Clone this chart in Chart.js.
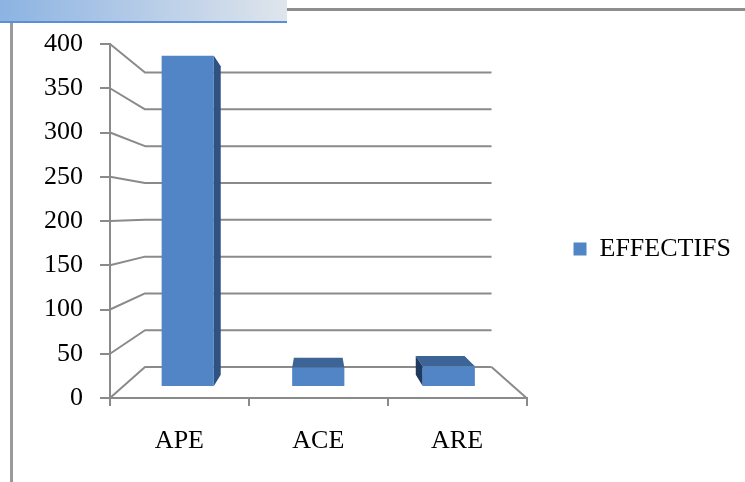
<!DOCTYPE html>
<html>
<head>
<meta charset="utf-8">
<script src="https://cdn.jsdelivr.net/npm/chart.js@4.4.1/dist/chart.umd.min.js"></script>
<style>
  html, body { margin: 0; padding: 0; background: #fff; }
  #page { position: relative; width: 745px; height: 482px; overflow: hidden; }
  #banner { position: absolute; left: 0; top: 0; width: 287px; height: 21px;
    background: linear-gradient(to right, #8cb3e2, #dfe5ec); border-bottom: 2px solid #5a8fd8; }
  #topRule { position: absolute; left: 287px; top: 8px; width: 458px; height: 3px; background: #8d8d8d; }
  #sideRule { position: absolute; left: 10px; top: 23px; width: 3px; height: 459px; background: #9a9a9a; }
  #wrap { position: absolute; left: 0; top: 0; width: 745px; height: 482px; }
</style>
</head>
<body>
<div id="page">
  <div id="banner"></div>
  <div id="topRule"></div>
  <div id="sideRule"></div>
  <div id="wrap"><canvas id="effChart" width="745" height="482"></canvas></div>
</div>
<script>
// ---- data ----
const categories = ['APE', 'ACE', 'ARE'];
const effectifs = [398, 23, 25];
const yTicks = [0, 50, 100, 150, 200, 250, 300, 350, 400];
const seriesName = 'EFFECTIFS';

// ---- look ----
const GRID = '#8a8a8a';
const FRONT = '#5285c6';
const SIDE_R = '#2f5283';
const SIDE_L = '#1f3a61';
const TOP = '#3c6496';
const FONT = { family: '"Liberation Serif", serif', size: 26 };

// fake perspective: everything recedes toward a vanishing point in the plot
const V_X = 0.5, V_Y = 0.48;
const S_BACK = 0.832;       // back wall
const S_BAR_FRONT = 0.940;  // front face of the columns
const S_BAR_BACK = 0.878;   // back face of the columns

function vanish(ca) {
  return [ca.left + V_X * ca.width, ca.top + V_Y * ca.height];
}
function proj(ca, x, y, s) {
  const [vx, vy] = vanish(ca);
  return [vx + s * (x - vx), vy + s * (y - vy)];
}
function poly(ctx, pts, fill) {
  ctx.beginPath();
  ctx.moveTo(pts[0][0], pts[0][1]);
  for (let i = 1; i < pts.length; i++) ctx.lineTo(pts[i][0], pts[i][1]);
  ctx.closePath();
  ctx.fillStyle = fill;
  ctx.fill();
}

const depth3d = {
  id: 'depth3d',
  beforeDatasetsDraw(chart) {
    const { ctx, chartArea: ca } = chart;
    const yS = chart.scales.y;
    ctx.save();
    ctx.strokeStyle = GRID;
    ctx.lineWidth = 2;
    ctx.lineJoin = 'round';
    // side wall diagonals + back wall grid lines
    yS.ticks.forEach(t => {
      const yf = yS.getPixelForValue(t.value);
      const a = proj(ca, ca.left, yf, S_BACK);
      const b = proj(ca, ca.right, yf, S_BACK);
      ctx.beginPath();
      ctx.moveTo(ca.left, yf);
      ctx.lineTo(a[0], a[1]);
      ctx.lineTo(b[0], b[1]);
      ctx.stroke();
    });
    // right edge of the floor
    const y0 = yS.getPixelForValue(0);
    const c = proj(ca, ca.right, y0, S_BACK);
    ctx.beginPath();
    ctx.moveTo(ca.right, y0);
    ctx.lineTo(c[0], c[1]);
    ctx.stroke();

    // column sides and tops (fronts are drawn by Chart.js afterwards)
    const [vx, vy] = vanish(ca);
    chart.getDatasetMeta(0).data.forEach(bar => {
      const p = bar.getProps(['x', 'y', 'base', 'width'], true);
      const l = p.x - p.width / 2, r = p.x + p.width / 2;
      const top = p.y, bot = p.base;
      const F = S_BAR_FRONT, B = S_BAR_BACK;
      if (top > vy) {
        poly(ctx, [proj(ca, l, top, F), proj(ca, r, top, F), proj(ca, r, top, B), proj(ca, l, top, B)], TOP);
      }
      if (r < vx) {
        poly(ctx, [proj(ca, r, top, F), proj(ca, r, top, B), proj(ca, r, bot, B), proj(ca, r, bot, F)], SIDE_R);
      }
      if (l > vx) {
        poly(ctx, [proj(ca, l, top, F), proj(ca, l, top, B), proj(ca, l, bot, B), proj(ca, l, bot, F)], SIDE_L);
      }
    });
    ctx.restore();

    // push the column fronts back into the box
    ctx.save();
    ctx.translate(vx, vy);
    ctx.scale(S_BAR_FRONT, S_BAR_FRONT);
    ctx.translate(-vx, -vy);
  },
  afterDatasetsDraw(chart) {
    chart.ctx.restore();
  }
};

const ctx = document.getElementById('effChart').getContext('2d');
const effChart = new Chart(ctx, {
  type: 'bar',
  data: {
    labels: categories,
    datasets: [{
      label: seriesName,
      data: effectifs,
      backgroundColor: FRONT,
      borderWidth: 0,
      categoryPercentage: 1,
      barPercentage: 0.4
    }]
  },
  options: {
    responsive: false,
    animation: false,
    layout: { padding: { left: 0, top: 44, right: 4, bottom: 28 } },
    plugins: {
      tooltip: { enabled: false },
      legend: {
        position: 'right',
        maxWidth: 240,
        labels: {
          boxWidth: 13,
          boxHeight: 13,
          padding: 47,
          color: '#000',
          font: FONT
        }
      }
    },
    scales: {
      x: {
        offset: true,
        afterFit(scale) { scale.height = 56; },
        grid: { drawOnChartArea: false, offset: true, tickLength: 8, color: GRID, lineWidth: 2 },
        border: { color: GRID, width: 2 },
        ticks: { color: '#000', font: FONT, padding: 20 }
      },
      y: {
        min: 0,
        max: 400,
        afterFit(scale) { scale.width = 110; },
        afterBuildTicks(scale) { scale.ticks = yTicks.map(v => ({ value: v })); },
        grid: { drawOnChartArea: false, tickLength: 10, color: GRID, lineWidth: 2 },
        border: { color: GRID, width: 2 },
        ticks: { color: '#000', font: FONT, padding: 17 }
      }
    }
  },
  plugins: [depth3d]
});
</script>
</body>
</html>
